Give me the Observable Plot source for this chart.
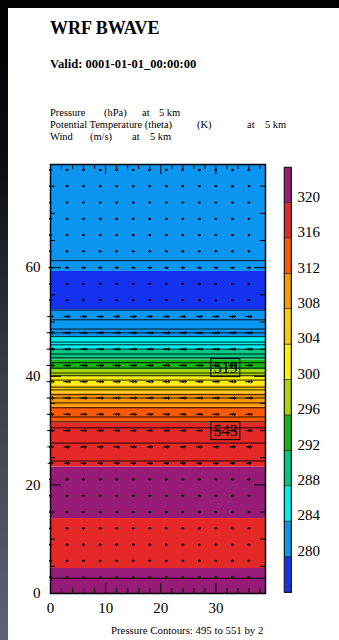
<!DOCTYPE html>
<html><head><meta charset="utf-8">
<script src="https://cdn.jsdelivr.net/npm/d3@7"></script>
<script src="https://cdn.jsdelivr.net/npm/@observablehq/plot@0.6"></script>
<style>
html,body{margin:0;padding:0;}
body{width:339px;height:640px;overflow:hidden;position:relative;background:linear-gradient(to bottom,#000 0%,#0c0c10 25%,#3a3d4c 60%,#5d6276 100%);font-family:"Liberation Serif","Times New Roman",serif;color:#000;}
#page{position:absolute;left:8px;top:8px;right:0;bottom:0;background:#fff;}
.t{position:absolute;white-space:pre;transform-origin:0 0;}
.s{font-size:11px;line-height:11px;transform:scaleX(0.95);}
.layer{position:absolute;left:0;top:0;}
</style></head><body>
<div id="page"></div>
<div class="t" style="left:50px;top:19px;font-size:18px;line-height:18px;font-weight:bold">WRF BWAVE</div>
<div class="t" style="left:50px;top:57px;font-size:13px;line-height:13px;font-weight:bold;transform:scaleX(0.965)">Valid: 0001-01-01_00:00:00</div>
<div class="t s" style="left:50px;top:107.3px">Pressure</div>
<div class="t s" style="left:104px;top:107.3px">(hPa)</div>
<div class="t s" style="left:142px;top:107.3px">at</div>
<div class="t s" style="left:159px;top:107.3px">5 km</div>
<div class="t s" style="left:50px;top:119.3px">Potential Temperature (theta)</div>
<div class="t s" style="left:197px;top:119.3px">(K)</div>
<div class="t s" style="left:247px;top:119.3px">at</div>
<div class="t s" style="left:265px;top:119.3px">5 km</div>
<div class="t s" style="left:50px;top:131.3px">Wind</div>
<div class="t s" style="left:90px;top:131.3px">(m/s)</div>
<div class="t s" style="left:132px;top:131.3px">at</div>
<div class="t s" style="left:150px;top:131.3px">5 km</div>
<div class="t" style="left:111px;top:625px;font-size:10.8px;line-height:10.8px">Pressure Contours: 495 to 551 by 2</div>
<div id="chart" class="layer"></div>
<div id="bar" class="layer"></div>
<script>
// Potential temperature bands (K): bottom, top (grid units), value
const bandLo    = [0,   4.6, 13.8, 23.3, 31.4, 34.3, 36.9, 38.4, 39.9, 41.2, 43.0, 44.9, 47.3, 52.2, 59.3];
const bandHi    = [4.6, 13.8, 23.3, 31.4, 34.3, 36.9, 38.4, 39.9, 41.2, 43.0, 44.9, 47.3, 52.2, 59.3, 79];
const bandTheta = [322, 318, 322, 318, 314, 310, 306, 302, 298, 294, 290, 286, 282, 278, 282];

// colour levels
const thetaLevels = [280, 284, 288, 292, 296, 300, 304, 308, 312, 316, 320];
const thetaColors = ["#1432f0", "#0a96f0", "#00eeee", "#00c882", "#14b414", "#a8d800",
                     "#fff000", "#ffcc00", "#ff9900", "#ff5a00", "#e52828", "#961c78"];
const barLo = [276, 280, 284, 288, 292, 296, 300, 304, 308, 312, 316, 320];
const barHi = [280, 284, 288, 292, 296, 300, 304, 308, 312, 316, 320, 324];

// pressure contours (hPa) and their heights
const pLevel = [495, 497, 499, 501, 503, 505, 507, 509, 511, 513, 515, 517, 519, 521, 523, 525, 527, 529, 531, 533, 535, 537, 539, 541, 543, 545, 547, 549];
const pY     = [61.3, 52.2, 50.4, 48.7, 48.0, 47.3, 46.3, 45.8, 45.0, 44.1, 43.4, 42.5, 41.5, 40.6, 40.1, 39.3, 38.0, 37.5, 36.6, 36.0, 35.1, 34.2, 32.5, 31.6, 30.5, 27.7, 24.4, 2.8];

// contour labels
const labelText = ["519", "543"];
const labelX = [31.8, 31.8];
const labelY = [41.5, 29.9];

// wind grid
const windX = [0, 3, 6, 9, 12, 15, 18, 21, 24, 27, 30, 33, 36];
const windRows = [3, 6, 9, 12, 15, 18, 21, 24, 27, 30, 33, 36, 39, 42, 45, 48, 51, 54, 57, 60, 63, 66, 69, 72, 75, 78];
const windU = [0.5, 0.5, 0.5, 0.5, 0.5, 0.5, 0.5, 1.4, 1.6, 1.7, 1.8, 2.0, 2.0, 2.0, 2.0, 2.0, 1.6, 0.5, 0.5, 1.0, 0.5, 0.5, 0.5, 0.5, 0.5, 0.5];

// axis ticks
const xMajor = [0, 10, 20, 30];
const xMinor = [2, 4, 6, 8, 12, 14, 16, 18, 22, 24, 26, 28, 32, 34, 36, 38];
const yMajor = [0, 20, 40, 60];
const yMinor = [5, 10, 15, 25, 30, 35, 45, 50, 55, 65, 70, 75];

const bands = bandLo.map((lo, i) => ({lo, hi: bandHi[i], theta: bandTheta[i]}));
const plines = pLevel.map((p, i) => ({p, y: pY[i]}));
const labels = labelText.map((t, i) => ({t, x: labelX[i], y: labelY[i]}));
const winds = [];
windRows.forEach((y, j) => windX.forEach(x => winds.push({x, y, u: windU[j]})));

const W = 339, H = 640;
const mL = 50, mR = 74, mT = 164, mB = 47;
const fw = W - mL - mR, fh = H - mT - mB;
const font = "Liberation Serif";

const chart = Plot.plot({
  width: W, height: H,
  marginLeft: mL, marginRight: mR, marginTop: mT, marginBottom: mB,
  style: {background: "transparent", fontFamily: font, color: "black"},
  x: {domain: [0, 39]},
  y: {domain: [0, 79]},
  color: {type: "threshold", domain: thetaLevels, range: thetaColors},
  length: {type: "linear", domain: [0, 2], range: [0, 7]},
  marks: [
    Plot.rect(bands, {y1: "lo", y2: "hi", fill: "theta"}),
    Plot.ruleY(plines, {y: "y", stroke: "black", strokeWidth: 1, strokeOpacity: 0.85}),
    Plot.vector(winds, {x: "x", y: "y", length: "u", rotate: 90, stroke: "black", strokeWidth: 1}),
    Plot.dot(winds, {x: "x", y: "y", r: 1.1, fill: "black"}),
    Plot.rect(labels, {x1: "x", x2: "x", y1: "y", y2: "y", insetLeft: -14.5, insetRight: -14.5, insetTop: -9, insetBottom: -9, fill: "none", stroke: "black", strokeWidth: 1}),
    Plot.text(labels, {x: "x", y: "y", text: "t", fontSize: 16, fill: "black"}),
    Plot.tickX(xMajor, {x: d => d, insetTop: fh - 10, stroke: "black"}),
    Plot.tickX(xMinor, {x: d => d, insetTop: fh - 5, stroke: "black"}),
    Plot.tickX(xMajor, {x: d => d, insetBottom: fh - 10, stroke: "black"}),
    Plot.tickX(xMinor, {x: d => d, insetBottom: fh - 5, stroke: "black"}),
    Plot.tickY(yMajor, {y: d => d, insetRight: fw - 11, stroke: "black"}),
    Plot.tickY(yMinor, {y: d => d, insetRight: fw - 5, stroke: "black"}),
    Plot.tickY(yMajor, {y: d => d, insetLeft: fw - 11, stroke: "black"}),
    Plot.tickY(yMinor, {y: d => d, insetLeft: fw - 5, stroke: "black"}),
    Plot.frame({stroke: "black", strokeWidth: 1.5}),
    Plot.axisX({ticks: xMajor, tickSize: 0, tickPadding: 9, fontSize: 15, label: null}),
    Plot.axisY({ticks: yMajor, tickSize: 0, tickPadding: 10, fontSize: 15, label: null})
  ]
});
document.getElementById("chart").appendChild(chart);

const barData = barLo.map((lo, i) => ({lo, hi: barHi[i]}));
const bar = Plot.plot({
  width: W, height: H,
  marginLeft: 284, marginRight: 48, marginTop: 167, marginBottom: 48,
  style: {background: "transparent", fontFamily: font, color: "black"},
  x: {domain: [0, 1], axis: null},
  y: {domain: [276, 324], axis: null},
  color: {type: "threshold", domain: thetaLevels, range: thetaColors},
  marks: [
    Plot.rect(barData, {x1: 0, x2: 1, y1: "lo", y2: "hi", fill: d => (d.lo + d.hi) / 2, stroke: "#222", strokeWidth: 0.6}),
    Plot.frame({stroke: "#222", strokeWidth: 1}),
    Plot.text(thetaLevels, {x: 1, y: d => d, text: d => String(d), dx: 6, dy: -6, textAnchor: "start", fontSize: 15, fill: "black"})
  ]
});
document.getElementById("bar").appendChild(bar);
</script>
</body></html>
